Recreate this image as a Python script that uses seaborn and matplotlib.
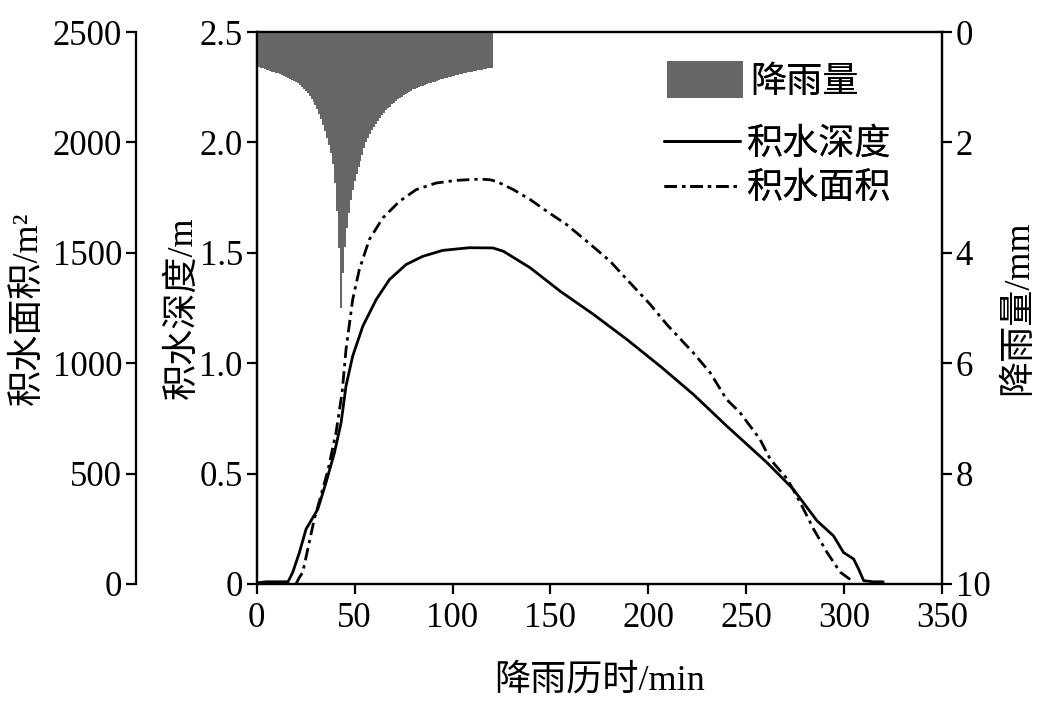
import matplotlib
matplotlib.use('Agg')
import matplotlib.pyplot as plt
import seaborn as sns
from matplotlib.patches import Patch
from matplotlib.lines import Line2D

# 降雨量 (mm/min), minutes 1..120
rain_min = list(range(1, 121))
rain_mm = [0.64, 0.65, 0.66, 0.67, 0.68, 0.69, 0.70, 0.72, 0.73, 0.74,
           0.75, 0.76, 0.78, 0.79, 0.81, 0.83, 0.85, 0.87, 0.89, 0.91,
           0.93, 0.96, 0.99, 1.03, 1.07, 1.11, 1.16, 1.21, 1.27, 1.33,
           1.40, 1.48, 1.57, 1.68, 1.79, 1.92, 2.05, 2.20, 2.40, 2.74,
           3.25, 3.91, 5.00, 4.36, 3.90, 3.55, 3.28, 3.05, 2.86, 2.70,
           2.57, 2.45, 2.34, 2.22, 2.10, 2.00, 1.92, 1.85, 1.78, 1.72,
           1.66, 1.61, 1.56, 1.51, 1.46, 1.42, 1.38, 1.35, 1.31, 1.28,
           1.25, 1.22, 1.19, 1.17, 1.14, 1.12, 1.10, 1.08, 1.06, 1.04,
           1.03, 1.01, 1.00, 0.98, 0.97, 0.96, 0.94, 0.93, 0.92, 0.91,
           0.90, 0.89, 0.87, 0.86, 0.85, 0.84, 0.83, 0.82, 0.81, 0.80,
           0.79, 0.78, 0.77, 0.76, 0.76, 0.75, 0.74, 0.73, 0.72, 0.72,
           0.71, 0.70, 0.69, 0.69, 0.68, 0.67, 0.67, 0.66, 0.65, 0.65]

# 积水深度 (m)
depth_t = [0, 5, 10, 16, 18.4, 21.8, 25.2, 27.7, 31.2, 35.4, 39.7, 43.1, 45.6,
           49, 54.2, 61, 67.8, 76.3, 84.8, 95, 108.6, 120.6, 126, 139.7,
           155, 172, 189, 206, 223, 240, 260.6, 274, 286.2,
           294.6, 299.7, 304.9, 307.4, 310, 315, 320]
depth_m = [0.005, 0.01, 0.01, 0.01, 0.053, 0.143, 0.249, 0.286, 0.339, 0.46,
           0.595, 0.731, 0.897, 1.032, 1.168, 1.288, 1.379, 1.447, 1.484,
           1.511, 1.523, 1.522, 1.507, 1.432, 1.326, 1.221, 1.108, 0.987,
           0.859, 0.716, 0.55, 0.43, 0.286, 0.218, 0.143, 0.113, 0.068,
           0.015, 0.01, 0.01]

# 积水面积 (m2)
area_t = [20, 21.8, 23.5, 29.4, 36.3, 40.5, 43.6, 45.6, 49, 52.4, 57.5, 64.4,
          72.9, 81.4, 91.6, 101.8, 114, 119, 122.6, 131.1, 139.7, 148.2,
          158.4, 168.6, 180.5, 189.1, 201, 209.5, 223, 231.6, 240,
          246.9, 257, 262.3, 271, 277.6, 284.4, 291.3, 298.1, 304]
area_m2 = [0, 30, 53, 294, 512, 686, 867, 1062, 1288, 1424, 1560, 1658,
           1733, 1786, 1816, 1828, 1834, 1831, 1823, 1786, 1741, 1688,
           1627, 1552, 1462, 1379, 1266, 1175, 1047, 957, 836, 776, 656,
           565, 475, 369, 249, 143, 53, 15]

x_ticks = [0, 50, 100, 150, 200, 250, 300, 350]
depth_ticks = [0, 0.5, 1.0, 1.5, 2.0, 2.5]
depth_labels = ['0', '0.5', '1.0', '1.5', '2.0', '2.5']
area_ticks = [0, 500, 1000, 1500, 2000, 2500]
rain_ticks = [0, 2, 4, 6, 8, 10]

sns.set_theme(style='ticks', rc={'axes.edgecolor': 'black', 'xtick.color': 'black',
                                 'ytick.color': 'black', 'text.color': 'black',
                                 'axes.labelcolor': 'black'})
plt.rcParams['font.family'] = ['Liberation Serif', 'Noto Sans CJK SC']

TICK = 25
LAB = 26
LW = 1.6
gray = '#666666'
dashdot = (0, (4.5, 1.8, 1.2, 1.8))

fig = plt.figure(figsize=(10.39, 7.02), dpi=100)
ax = fig.add_axes([0.2471, 0.1681, 0.6595, 0.7863])
ax_area = ax.twinx()
ax_rain = ax.twinx()

# lines
sns.lineplot(x=depth_t, y=depth_m, ax=ax, color='black', linewidth=2.0)
sns.lineplot(x=area_t, y=area_m2, ax=ax_area, color='black', linewidth=2.0,
             linestyle=dashdot)

# rainfall bars hanging from the top
ax_rain.bar(rain_min, rain_mm, width=1.0, color=gray, linewidth=0)

ax.set_xlim(0, 350)
ax.set_ylim(0, 2.5)
ax.set_xticks(x_ticks)
ax.set_yticks(depth_ticks)
ax.set_yticklabels(depth_labels)
ax_area.set_ylim(0, 2500)
ax_area.set_yticks(area_ticks)
ax_rain.set_ylim(10, 0)
ax_rain.set_yticks(rain_ticks)

# outer left axis for area
ax_area.spines['left'].set_position(('outward', 86.9))
ax_area.spines['left'].set_visible(True)
for s in ['right', 'top', 'bottom']:
    ax_area.spines[s].set_visible(False)
ax_area.yaxis.set_ticks_position('left')
ax_area.yaxis.set_label_position('left')

for a in (ax, ax_area, ax_rain):
    for s in a.spines.values():
        s.set_linewidth(LW)
    a.tick_params(direction='out', length=7, width=LW, labelsize=TICK, pad=3)
    a.set_xlabel('')
    a.set_ylabel('')
ax.tick_params(axis='x', pad=6)

ax.set_xlabel('降雨历时/min', fontsize=LAB)
ax.set_ylabel('积水深度/m', fontsize=LAB)
ax_area.set_ylabel('积水面积/m²', fontsize=LAB)
ax_rain.set_ylabel('降雨量/mm', fontsize=LAB)
ax.xaxis.set_label_coords(0.501, -0.145)
ax.yaxis.set_label_coords(-0.084, 0.5)
ax_area.yaxis.set_label_coords(-0.309, 0.5)
ax_rain.yaxis.set_label_coords(1.088, 0.5)

# legends
leg1 = ax_rain.legend([Patch(facecolor=gray, edgecolor='none')], ['降雨量'],
                      loc='upper left', bbox_to_anchor=(667 / 1039, 1 - 61 / 702),
                      bbox_transform=fig.transFigure, frameon=False, fontsize=LAB,
                      handlelength=2.1, handleheight=1.2, handletextpad=0.2,
                      borderpad=0, borderaxespad=0)
ax_rain.add_artist(leg1)
leg2 = ax.legend([Line2D([], [], color='black', lw=2.0),
                  Line2D([], [], color='black', lw=2.0, linestyle=dashdot)],
                 ['积水深度', '积水面积'],
                 loc='upper left', bbox_to_anchor=(664 / 1039, 1 - 128 / 702),
                 bbox_transform=fig.transFigure, frameon=False, fontsize=LAB,
                 handlelength=2.1, handletextpad=0.2, labelspacing=0.32,
                 borderpad=0, borderaxespad=0)
fig.add_artist(leg2)

fig.savefig('out.png', dpi=100)
